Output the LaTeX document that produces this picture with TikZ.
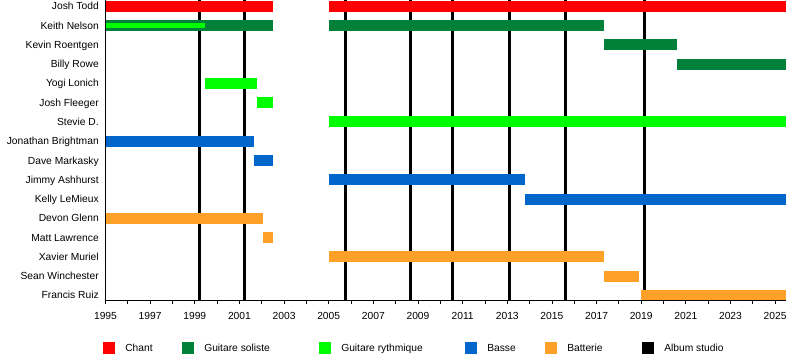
\documentclass[tikz,border=0pt]{standalone}
\usepackage{fontspec}
\setmainfont{Liberation Sans}
\definecolor{cChant}{RGB}{255,0,0}
\definecolor{cLead}{RGB}{0,128,56}
\definecolor{cRhythm}{RGB}{0,255,0}
\definecolor{cBass}{RGB}{0,102,204}
\definecolor{cDrums}{RGB}{255,160,40}
\newcommand\tlbar[4]{\fill[#1] ({yr(#2)},{6.3+#4*19.27-5.5}) rectangle ({yr(#3)},{6.3+#4*19.27+5.5});}
\begin{document}
\begin{tikzpicture}[x=0.75pt,y=-0.75pt,
  declare function={yr(\t)=105.5+(\t-1995)*22.32;},
  font=\fontsize{7.7}{9}\selectfont,
  lbl/.style={anchor=base east,inner sep=0pt},
  yearlbl/.style={anchor=base,inner sep=0pt},
  legtext/.style={anchor=base west,inner sep=0pt},
  album/.style={line width=2.25pt,black},
  axisline/.style={line width=0.75pt,black},
  tickline/.style={line width=0.6pt,black}]
\useasboundingbox (0,0) rectangle (800,360);
% album lines
\foreach \a in {1999.23,2001.22,2005.74,2008.66,2010.54,2013.09,2015.6,2019.14}
  \draw[album] ({yr(\a)},0) -- ({yr(\a)},300);
% names
\foreach \n [count=\i from 0] in {Josh Todd,Keith Nelson,Kevin Roentgen,Billy Rowe,Yogi Lonich,Josh Fleeger,Stevie D.,Jonathan Brightman,Dave Markasky,Jimmy Ashhurst,Kelly LeMieux,Devon Glenn,Matt Lawrence,Xavier Muriel,Sean Winchester,Francis Ruiz}
  \node[lbl] (name\i) at (99,{6.3+\i*19.27+3.6}) {\n};
% bars
\tlbar{cChant}{1995}{2002.5}{0}
\tlbar{cChant}{2005}{2025.5}{0}
\tlbar{cLead}{1995}{2002.5}{1}
\tlbar{cLead}{2005}{2017.33}{1}
\fill[cRhythm] ({yr(1995)},{6.3+19.27-2.6}) rectangle ({yr(1999.46)},{6.3+19.27+2.6});
\tlbar{cLead}{2017.33}{2020.6}{2}
\tlbar{cLead}{2020.6}{2025.5}{3}
\tlbar{cRhythm}{1999.46}{2001.8}{4}
\tlbar{cRhythm}{2001.8}{2002.5}{5}
\tlbar{cRhythm}{2005}{2025.5}{6}
\tlbar{cBass}{1995}{2001.65}{7}
\tlbar{cBass}{2001.65}{2002.5}{8}
\tlbar{cBass}{2005}{2013.8}{9}
\tlbar{cBass}{2013.8}{2025.5}{10}
\tlbar{cDrums}{1995}{2002.07}{11}
\tlbar{cDrums}{2002.07}{2002.5}{12}
\tlbar{cDrums}{2005}{2017.33}{13}
\tlbar{cDrums}{2017.33}{2018.92}{14}
\tlbar{cDrums}{2018.98}{2025.5}{15}
% axes
\draw[axisline] (105.5,0) -- (105.5,300) -- ({yr(2025.5)},300);
\foreach \y in {1995,...,2025}
  \draw[tickline] ({yr(\y)},300) -- ({yr(\y)},304);
\foreach \y in {1995,1997,...,2025}
  \node[yearlbl] (yl\y) at ({yr(\y)},319) {\y};
% legend
\foreach \c/\x/\t/\tx [count=\k] in {cChant/103/Chant/125,cLead/182/Guitare soliste/204,cRhythm/319/Guitare rythmique/341,cBass/465/Basse/487,cDrums/545/Batterie/567,black/642/Album studio/664}{
  \fill[\c] (\x,342) rectangle ({\x+11.5},354);
  \node[legtext] (leg\k) at (\tx,351.6) {\t};
}
\end{tikzpicture}
\end{document}
